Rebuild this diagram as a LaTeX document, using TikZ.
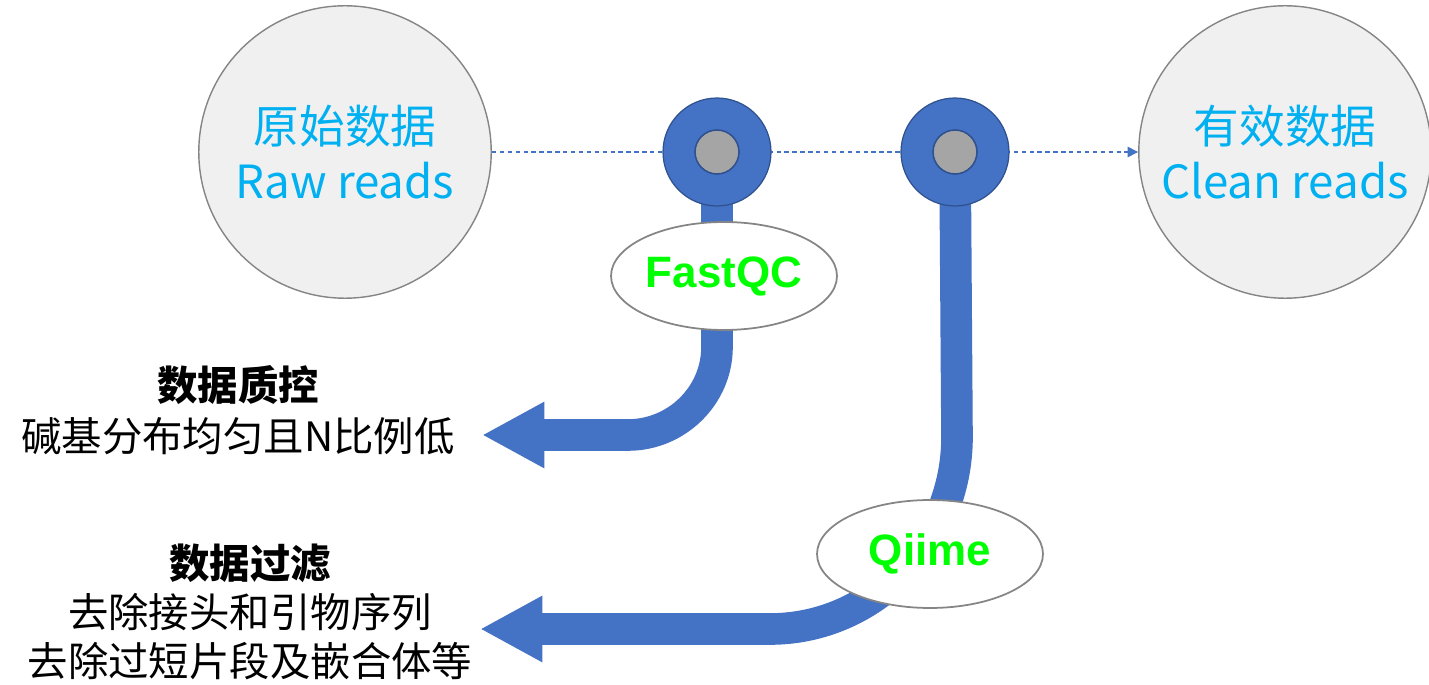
\documentclass[tikz,border=0pt]{standalone}
\usepackage{fontspec}
\setmainfont{Liberation Sans}
\newfontfamily\cjk{Noto Sans CJK SC}
\usetikzlibrary{arrows.meta,shapes.geometric}
\definecolor{pinblue}{HTML}{4472C4}
\definecolor{pinedge}{HTML}{2F528F}
\definecolor{txtblue}{HTML}{00B0F0}
\definecolor{toolgreen}{HTML}{00FF00}
\definecolor{bubblefill}{HTML}{F0F0F0}
\definecolor{bubbleedge}{HTML}{858585}
\definecolor{pingray}{HTML}{A5A5A5}
\begin{document}
\begin{tikzpicture}[x=0.02cm,y=-0.02cm,
  bubble/.style={circle, draw=bubbleedge, fill=bubblefill, line width=0.8pt, minimum size=5.85cm, inner sep=0pt, align=center, text=txtblue, font=\cjk\fontsize{26pt}{31pt}\selectfont},
  pinouter/.style={circle, fill=pinblue, draw=pinedge, line width=0.7pt, minimum size=2.16cm, inner sep=0pt},
  pininner/.style={circle, fill=pingray, draw=pinedge, line width=0.9pt, minimum size=0.88cm, inner sep=0pt},
  tool/.style={ellipse, draw=bubbleedge, fill=white, line width=1pt, minimum width=4.52cm, minimum height=2.16cm, inner sep=0pt, text=toolgreen, font=\bfseries\fontsize{25pt}{30pt}\selectfont},
  flow/.style={draw=pinblue, line width=18pt, -{Triangle[length=1.25cm,width=1.24cm]}},
  guide/.style={draw=pinblue, line width=0.6pt, dash pattern=on 2.5pt off 2pt, -{Triangle[length=6pt,width=6pt]}},
  note/.style={align=center, text=black, font=\cjk\fontsize{23pt}{29pt}\selectfont}
]
\useasboundingbox (0,0) rectangle (1429,685);
% bubbles
\node[bubble] (raw) at (345,152) {原始数据\\Raw reads};
\node[bubble] (clean) at (1285,152) {有效数据\\Clean reads};
% pin centres
\coordinate (pA) at (717,152);
\coordinate (pB) at (955,152);
% dashed guide
\draw[guide] (raw.east) -- (clean.west);
% flows
\coordinate (tipA) at (482,435);
\coordinate (tipB) at (480,629);
\draw[flow] (pA) -- (717,347) .. controls (717,395.6) and (676.6,435) .. (628,435) -- (tipA);
\draw[flow] (pB) -- (957,437) .. controls (957,543) and (873,629) .. (770,629) -- (tipB);
% tool ellipses
\node[tool] (fastqc) at (724,276) {FastQC};
\node[tool] (qiime) at (930,554) {Qiime};
% pins
\node[pinouter] (pinA) at (pA) {};
\node[pininner] (pinAin) at (pA) {};
\node[pinouter] (pinB) at (pB) {};
\node[pininner] (pinBin) at (pB) {};
% notes
\node[note] (qc) at (238,410) {\textbf{数据质控}\\碱基分布均匀且N比例低};
\node[note, font=\cjk\fontsize{23pt}{27.8pt}\selectfont] (filt) at (250,612) {\textbf{数据过滤}\\去除接头和引物序列\\去除过短片段及嵌合体等};
\end{tikzpicture}
\end{document}
